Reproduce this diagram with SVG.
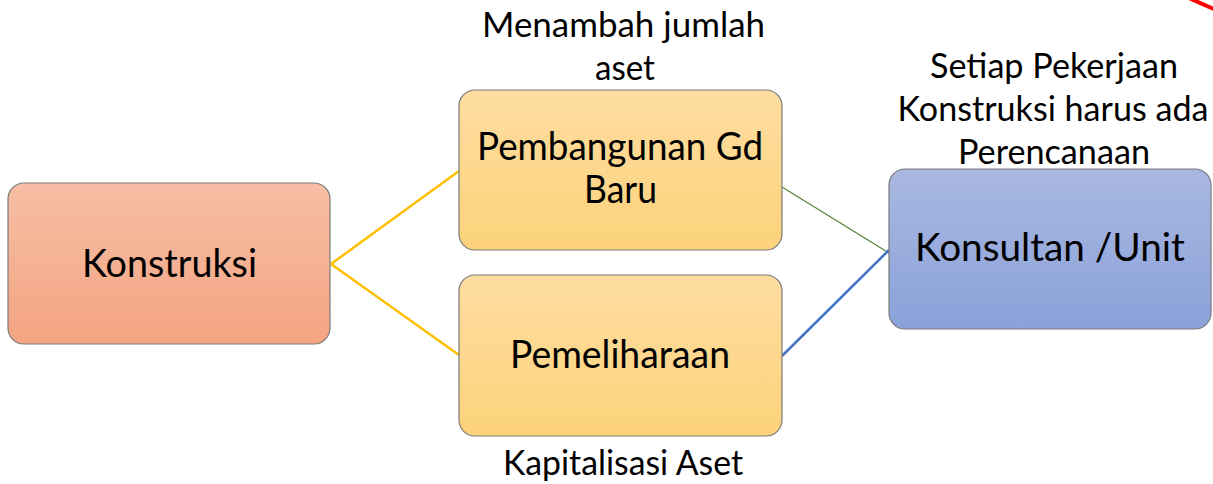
<svg xmlns="http://www.w3.org/2000/svg" width="1213" height="484" viewBox="0 0 1213 484">
<defs>
<linearGradient id="gRed" x1="0" y1="0" x2="0" y2="1"><stop offset="0" stop-color="#f6bea5"/><stop offset="1" stop-color="#f4a481"/></linearGradient>
<linearGradient id="gYel" x1="0" y1="0" x2="0" y2="1"><stop offset="0" stop-color="#fedda1"/><stop offset="1" stop-color="#fcd27a"/></linearGradient>
<linearGradient id="gBlu" x1="0" y1="0" x2="0" y2="1"><stop offset="0" stop-color="#a9b8e1"/><stop offset="1" stop-color="#8aa2d9"/></linearGradient>
</defs>
<style>
.box{stroke:#7a7a7a;stroke-width:1.2}
.t{font-family:Lato,"Liberation Sans",sans-serif;font-size:38px;fill:#000;text-anchor:middle}
.n{font-family:Lato,"Liberation Sans",sans-serif;font-size:34px;fill:#000;text-anchor:middle}
</style>
<rect width="1213" height="484" fill="#fff"/>
<path d="M1189,-2 Q1202,4 1214,9" fill="none" stroke="#ff0000" stroke-width="4"/>
<g id="connectors" fill="none">
<line x1="331" y1="264" x2="459" y2="171" stroke="#ffc000" stroke-width="2.5"/>
<line x1="331" y1="264" x2="459" y2="355" stroke="#ffc000" stroke-width="2.5"/>
<line x1="782" y1="187" x2="889" y2="253" stroke="#548235" stroke-width="1.2"/>
<line x1="782" y1="356" x2="889" y2="250" stroke="#4472c4" stroke-width="2.5"/>
</g>
<g id="konstruksi">
<rect class="box" x="8" y="183" width="322" height="161" rx="16" fill="url(#gRed)"/>
<text class="t" x="169.5" y="277" textLength="175" lengthAdjust="spacingAndGlyphs">Konstruksi</text>
</g>
<g id="pembangunan">
<rect class="box" x="459" y="90" width="323" height="160" rx="16" fill="url(#gYel)"/>
<text class="t" x="620" y="160" textLength="286" lengthAdjust="spacingAndGlyphs">Pembangunan Gd</text>
<text class="t" x="620.5" y="203" textLength="73" lengthAdjust="spacingAndGlyphs">Baru</text>
</g>
<g id="pemeliharaan">
<rect class="box" x="459" y="275" width="323" height="161" rx="16" fill="url(#gYel)"/>
<text class="t" x="620" y="368" textLength="220" lengthAdjust="spacingAndGlyphs">Pemeliharaan</text>
</g>
<g id="konsultan">
<rect class="box" x="889" y="169" width="322" height="160" rx="16" fill="url(#gBlu)"/>
<text class="t" x="1050" y="261" textLength="270" lengthAdjust="spacingAndGlyphs">Konsultan /Unit</text>
</g>
<g id="note-menambah">
<text class="n" x="623.5" y="37" textLength="283" lengthAdjust="spacingAndGlyphs">Menambah jumlah</text>
<text class="n" x="625" y="80" textLength="60" lengthAdjust="spacingAndGlyphs">aset</text>
</g>
<g id="note-kapitalisasi">
<text class="n" x="623" y="475" textLength="240" lengthAdjust="spacingAndGlyphs">Kapitalisasi Aset</text>
</g>
<g id="note-setiap">
<text class="n" x="1054" y="78" textLength="248" lengthAdjust="spacingAndGlyphs">Setiap Pekerjaan</text>
<text class="n" x="1053" y="121" textLength="311" lengthAdjust="spacingAndGlyphs">Konstruksi harus ada</text>
<text class="n" x="1054" y="164" textLength="192" lengthAdjust="spacingAndGlyphs">Perencanaan</text>
</g>
</svg>
